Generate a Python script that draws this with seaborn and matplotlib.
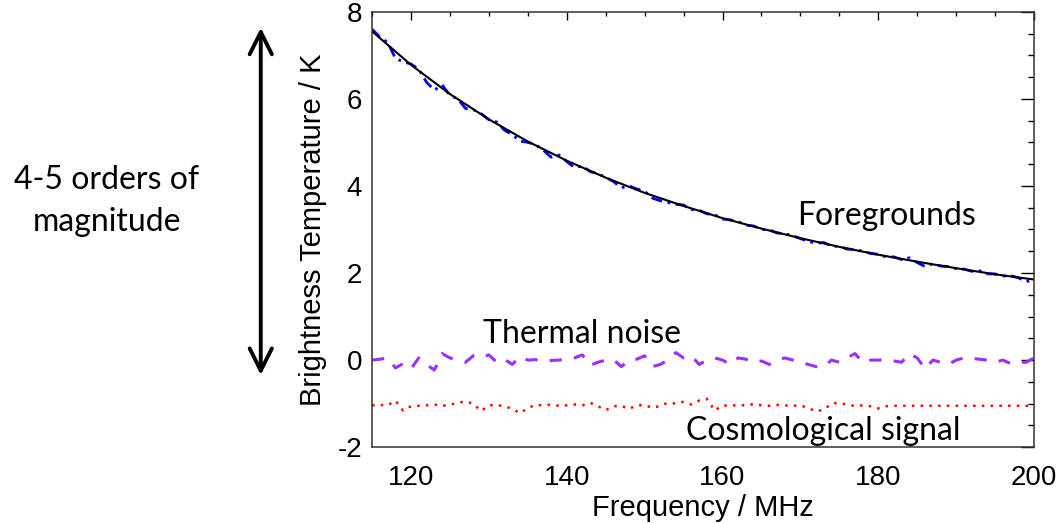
import numpy as np
import seaborn as sns
import matplotlib.pyplot as plt
from matplotlib.ticker import MultipleLocator

# frequency grid of the simulated spectra (MHz)
freq = np.arange(115, 201, 1)

fit_freq = np.arange(115, 201, 5)
fit_temp = [7.55, 6.78, 6.11, 5.53, 5.02, 4.58, 4.19, 3.84, 3.54,
            3.26, 3.02, 2.80, 2.60, 2.42, 2.26, 2.11, 1.97, 1.85]

# noisy foreground spectrum (blue dash-dot)
fg_temp = [7.60, 7.42, 7.30, 6.93, 6.85, 6.80,
           6.68, 6.38, 6.20, 6.32, 6.08,
           6.00, 5.78, 5.75, 5.66, 5.52,
           5.47, 5.28, 5.18, 5.03, 5.00,
           4.95, 4.82, 4.66, 4.71, 4.56,
           4.42, 4.46, 4.33, 4.28, 4.20,
           4.10, 3.96, 4.00, 3.93, 3.88,
           3.72, 3.66, 3.62, 3.58, 3.56,
           3.46, 3.44, 3.36, 3.34, 3.24,
           3.22, 3.18, 3.10, 3.08, 3.00,
           2.99, 2.92, 2.90, 2.86, 2.79,
           2.73, 2.68, 2.70, 2.62, 2.61,
           2.55, 2.54, 2.50, 2.45, 2.43,
           2.37, 2.37, 2.31, 2.35, 2.24,
           2.15, 2.21, 2.16, 2.15, 2.10,
           2.09, 2.04, 2.05, 1.98, 1.98,
           1.93, 1.94, 1.89, 1.80, 1.86]

# thermal noise (purple dashed)
noise_temp = [0.00, 0.02, 0.05, -0.18, -0.08, -0.20, 0.05, -0.10, -0.23, 0.15,
              0.05, 0.00, -0.05, 0.10, 0.05, 0.12, -0.05, 0.02, -0.10, 0.08,
              0.00, 0.01, -0.03, -0.01, 0.00, 0.02, 0.05, 0.12, -0.12, -0.05,
              0.00, 0.01, -0.15, 0.00, 0.02, 0.10, -0.15, -0.10, 0.00, 0.17,
              0.05, 0.10, -0.10, 0.00, 0.05, 0.00, -0.10, 0.05, 0.02, -0.05,
              -0.02, -0.10, 0.00, 0.05, 0.00, -0.05, -0.10, -0.15, -0.15, 0.00,
              -0.05, 0.05, 0.15, -0.05, 0.00, 0.00, 0.01, -0.02, -0.05, 0.15,
              0.05, -0.20, 0.00, -0.05, -0.10, 0.00, 0.05, 0.04, 0.02, 0.00,
              -0.05, 0.00, -0.08, -0.05, -0.05, 0.05]

# cosmological signal (red dotted)
signal_temp = [-1.04, -1.03, -1.04, -0.93, -1.16, -1.06, -1.05, -1.04, -1.02, -1.05,
               -1.03, -0.98, -0.95, -1.00, -1.17, -1.04, -1.03, -1.06, -1.12, -1.22,
               -1.10, -1.03, -1.04, -1.02, -1.05, -1.04, -1.02, -1.04, -0.98, -1.06,
               -1.15, -1.06, -1.05, -1.12, -1.04, -1.03, -1.10, -1.05, -0.98, -1.00,
               -0.96, -1.02, -0.93, -0.89, -1.16, -1.04, -1.05, -1.03, -1.04, -1.01,
               -1.04, -1.05, -1.03, -1.04, -1.05, -1.04, -1.10, -1.18, -1.14, -1.00,
               -0.98, -1.03, -1.05, -1.04, -1.06, -1.11, -1.06, -1.05, -1.05, -1.05,
               -1.05, -1.05, -1.05, -1.05, -1.05, -1.05, -1.05, -1.05, -1.05, -1.05,
               -1.05, -1.05, -1.05, -1.05, -1.05, -1.05]

sns.set_theme(style="white")
plt.rcParams['font.family'] = ['Liberation Sans', 'DejaVu Sans']
plt.rcParams['axes.unicode_minus'] = False
plt.rcParams['text.color'] = 'black'
plt.rcParams['axes.labelcolor'] = 'black'

fig = plt.figure(figsize=(10.6, 5.23), dpi=100)
ax = fig.add_axes([0.351, 0.145, 0.6245, 0.8325])

sns.lineplot(x=freq, y=fg_temp, ax=ax, color="#0000ff", linewidth=2.0,
             linestyle=(0, (4, 2, 1, 2)))
sns.lineplot(x=fit_freq, y=fit_temp, ax=ax, color="black", linewidth=1.5)
sns.lineplot(x=freq, y=noise_temp, ax=ax, color="#9b30ff", linewidth=2.2,
             linestyle=(0, (4, 4)))
sns.lineplot(x=freq, y=signal_temp, ax=ax, color="#ff0000", linewidth=1.8,
             linestyle=(0, (1, 2.5)))

ax.set_xlim(115, 200)
ax.set_ylim(-2, 8)
ax.xaxis.set_major_locator(MultipleLocator(20))
ax.xaxis.set_minor_locator(MultipleLocator(5))
ax.yaxis.set_major_locator(MultipleLocator(2))
ax.yaxis.set_minor_locator(MultipleLocator(0.5))
ax.tick_params(axis='both', which='both', direction='in', top=True, right=True,
               colors='black', labelsize=20, width=1)
ax.tick_params(axis='x', which='major', length=5.5, pad=13)
ax.tick_params(axis='x', which='minor', length=2.8)
ax.tick_params(axis='y', which='major', length=9.5, pad=7)
ax.tick_params(axis='y', which='minor', length=4.5)
for s in ax.spines.values():
    s.set_color('#333333')
    s.set_linewidth(1.1)

ax.set_xlabel("Frequency / MHz", fontsize=21, labelpad=2)
ax.set_ylabel("Brightness Temperature / K", fontsize=21, labelpad=8)

lab = dict(family=['Lato', 'DejaVu Sans'], fontsize=23, color='black')
ax.text(169.6, 3.30, "Foregrounds", ha='left', va='center', **lab)
ax.text(129.2, 0.60, "Thermal noise", ha='left', va='center', **lab)
ax.text(155.3, -1.63, "Cosmological signal", ha='left', va='center', **lab)

fig.text(0.101, 0.656, "4-5 orders of", ha='center', va='center', **lab)
fig.text(0.101, 0.576, "magnitude", ha='center', va='center', **lab)

ax.annotate("", xy=(0.246, 0.947), xytext=(0.246, 0.283),
            xycoords='figure fraction', textcoords='figure fraction',
            arrowprops=dict(arrowstyle="<->,head_length=0.8,head_width=0.4",
                            mutation_scale=20, lw=2.8, color='black',
                            shrinkA=0, shrinkB=0))

fig.savefig("out.png", dpi=100)
